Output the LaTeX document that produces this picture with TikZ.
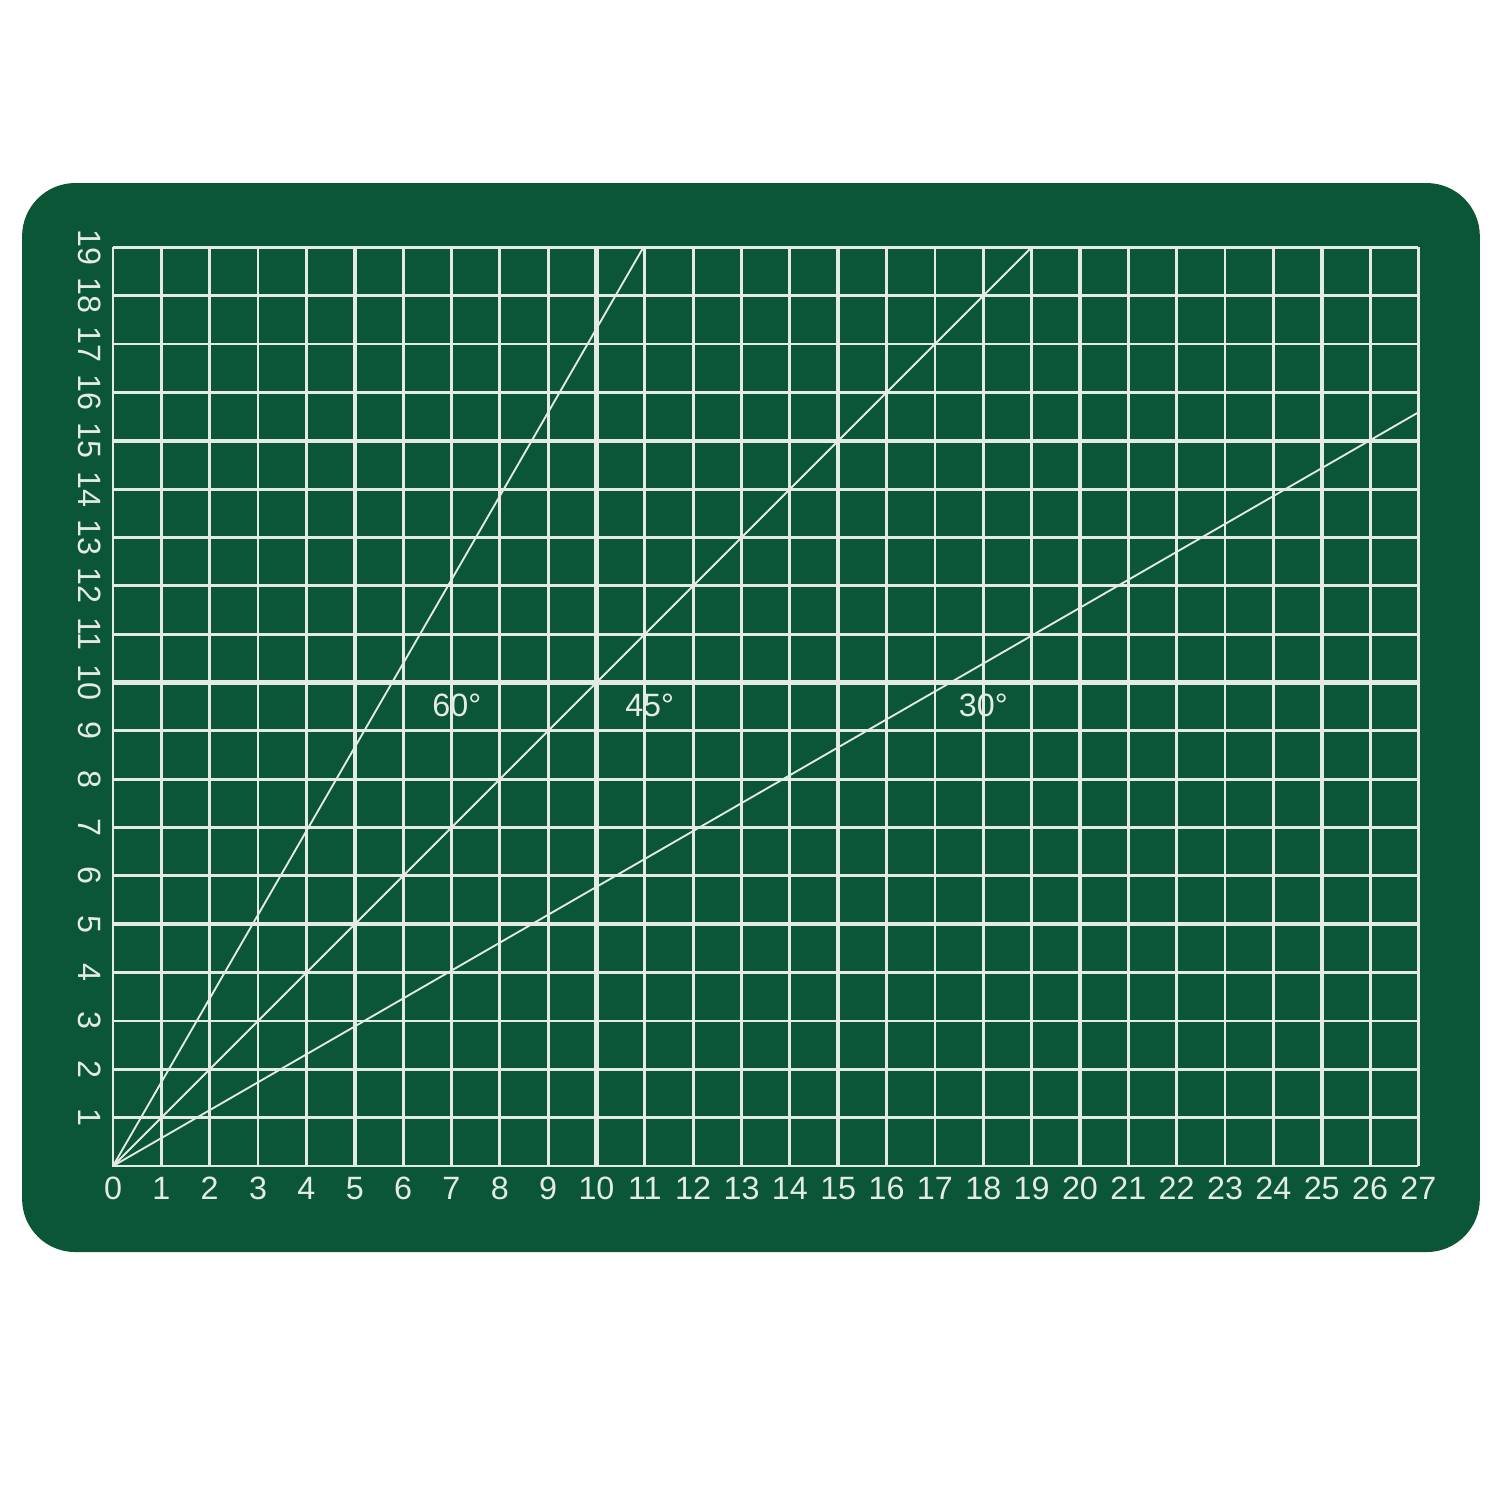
\documentclass[tikz,border=0pt]{standalone}
\usepackage{fontspec}
\setmainfont{Liberation Sans}
\definecolor{matgreen}{RGB}{10,86,55}
\definecolor{markwhite}{RGB}{228,234,228}
\tikzset{
  thinline/.style={draw=markwhite, line width=1.7pt},
  thickline/.style={draw=markwhite, line width=2.4pt},
  angleline/.style={draw=markwhite, line width=1.1pt},
  scalenum/.style={text=markwhite, font=\fontsize{19}{21}\selectfont, inner sep=0pt},
  anglelabel/.style={text=markwhite, font=\fontsize{19}{21}\selectfont, inner sep=0pt}
}
\begin{document}
\begin{tikzpicture}
\useasboundingbox (-2.337,-6.908) rectangle (28.687,24.116);
\fill[white] (-2.337,-6.908) rectangle (28.687,24.116);
% the mat
\fill[matgreen, rounded corners=1.1cm] (-1.88,-1.78) rectangle (28.27,20.33);
% grid
\foreach \i in {1,2,3,4,6,7,8,9,11,12,13,14,16,17,18,19,21,22,23,24,26,27}
  \draw[thinline] (\i,0) -- (\i,19);
\foreach \i in {1,2,3,4,6,7,8,9,11,12,13,14,16,17,18,19}
  \draw[thinline] (0,\i) -- (27,\i);
\foreach \i in {5,10,15,20,25}
  \draw[thickline] (\i,0) -- (\i,19);
\foreach \i in {5,10,15}
  \draw[thickline] (0,\i) -- (27,\i);
\draw[thinline] (0,19) -- (0,0) -- (27,0);
% angle lines
\coordinate (o) at (0,0);
\coordinate (end60) at (10.97,19);
\coordinate (end45) at (19,19);
\coordinate (end30) at (27,15.588);
\draw[angleline] (o) -- (end60);
\draw[angleline] (o) -- (end45);
\draw[angleline] (o) -- (end30);
\node[anglelabel] (lab60) at (7.11,9.53) {60°};
\node[anglelabel] (lab45) at (11.1,9.53) {45°};
\node[anglelabel] (lab30) at (18.0,9.53) {30°};
% scales
\foreach \i in {0,...,27}
  \node[scalenum] (bx\i) at (\i,-0.46) {\i};
\foreach \i in {1,...,19}
  \node[scalenum, rotate=-90] (ly\i) at (-0.48,\i) {\i};
\end{tikzpicture}
\end{document}
